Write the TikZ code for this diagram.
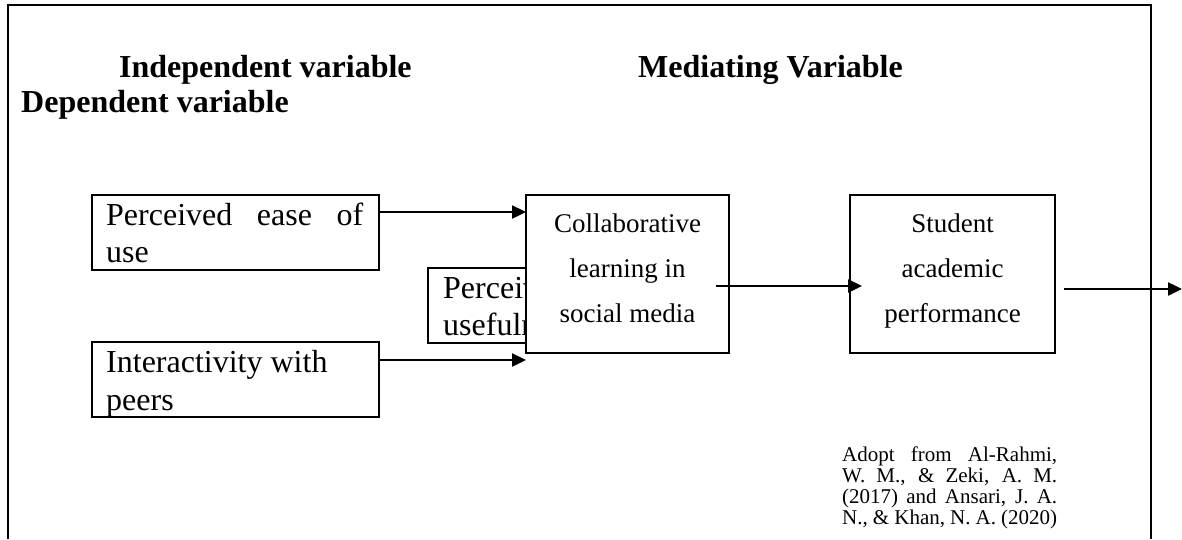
\documentclass[tikz,border=0pt]{standalone}
\usepackage{fontspec}
\setmainfont{Liberation Serif}
\usetikzlibrary{arrows.meta,calc}
\begin{document}
\begin{tikzpicture}[x=1pt,y=-1pt,
  frame/.style={line width=2.2pt},
  boxA/.style={draw, line width=1.9pt, inner sep=0pt, outer sep=0pt},
  boxB/.style={draw, line width=1.3pt, fill=white, inner sep=0pt, outer sep=0pt, minimum height=158pt},
  arr/.style={line width=2.4pt, -{Triangle[length=14pt,width=13pt]}},
  head/.style={font=\fontsize{32}{36}\selectfont\bfseries, anchor=base west, inner sep=0pt},
  big/.style={font=\fontsize{32}{36}\selectfont, anchor=base west, inner sep=0pt},
  mid/.style={font=\fontsize{27}{30}\selectfont, anchor=base, inner sep=0pt},
  cite/.style={font=\fontsize{21}{21}\selectfont, anchor=base west, inner sep=0pt}]
\useasboundingbox (0,0) rectangle (1182,539);
% frame
\coordinate (fbl) at (8,539);
\coordinate (ftl) at (8,5);
\coordinate (ftr) at (1151,5);
\coordinate (fbr) at (1151,539);
\draw[frame] (fbl) -- (ftl) -- (ftr) -- (fbr);
% headings
\node[head] (hind) at (119,77) {Independent variable};
\node[head] (hmed) at (638,77) {Mediating Variable};
\node[head] (hdep) at (21,112) {Dependent variable};
% left boxes
\node[boxA, minimum width=287pt, minimum height=75pt] (peou) at (235.5,232.5) {};
\node[big] (peou1) at (106,225) {\makebox[257pt][s]{Perceived ease of}};
\node[big] (peou2) at (106,262) {use};
\node[boxA, minimum width=172pt, minimum height=75pt] (pu) at (514,305.5) {};
\node[big] (pu1) at (443,298) {Perceived};
\node[big] (pu2) at (443,335) {usefulness};
\node[boxA, minimum width=287pt, minimum height=75pt] (ip) at (235.5,379.5) {};
\node[big] (ip1) at (106,372) {Interactivity with};
\node[big] (ip2) at (106,410) {peers};
% mediating and dependent boxes
\node[boxB, minimum width=203pt] (collab) at (627.5,274) {};
\node[mid] (c1) at (627.5,232) {Collaborative};
\node[mid] (c2) at (627.5,277) {learning in};
\node[mid] (c3) at (627.5,322) {social media};
\node[boxB, minimum width=205pt] (sap) at (952.5,274) {};
\node[mid] (s1) at (952.5,232) {Student};
\node[mid] (s2) at (952.5,277) {academic};
\node[mid] (s3) at (952.5,322) {performance};
% arrows
\draw[arr] (peou.east |- 0,212) -- (collab.west |- 0,212);
\draw[arr] (ip.east |- 0,360) -- (collab.west |- 0,360);
\draw[arr] ($(collab.east |- 0,286)+(-13,0)$) -- ($(sap.west |- 0,286)+(12,0)$);
\coordinate (out) at (1182,289);
\draw[arr] ($(sap.east |- out)+(9,0)$) -- (out);
% citation
\node[cite] (r1) at (842,461) {\makebox[215pt][s]{Adopt from Al-Rahmi,}};
\node[cite] (r2) at (842,482) {\makebox[215pt][s]{W. M., \& Zeki, A. M.}};
\node[cite] (r3) at (842,503) {\makebox[215pt][s]{(2017) and Ansari, J. A.}};
\node[cite] (r4) at (842,524) {\makebox[215pt][s]{N., \& Khan, N. A. (2020)}};
\end{tikzpicture}
\end{document}
